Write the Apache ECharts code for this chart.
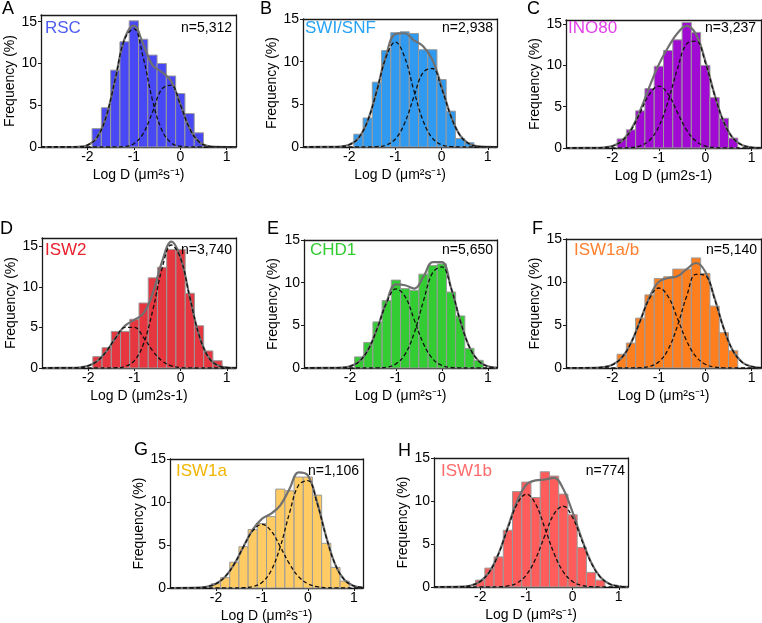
<!DOCTYPE html>
<html>
<head>
<meta charset="utf-8">
<script src="https://cdn.jsdelivr.net/npm/echarts@6/dist/echarts.min.js"></script>
<style>
  html, body { margin: 0; padding: 0; background: #fff; }
  #chart { width: 762px; height: 623px; }
</style>
</head>
<body>
<div id="chart"></div>
<script>
const fitX = [-3.0, -2.4, -2.2, -2.0, -1.8, -1.6, -1.4, -1.2, -1.0, -0.8, -0.6, -0.4, -0.2, 0.0, 0.2, 0.4, 0.6, 0.8, 1.0, 1.2]
const BIN_WIDTH = 0.2

// A - RSC
const binsA = [-1.8, -1.6, -1.4, -1.2, -1.0, -0.8, -0.6, -0.4, -0.2, 0.0, 0.2, 0.4]
const barsA = [2.2, 4.7, 9.2, 12.6, 15.1, 12.9, 11.0, 10.0, 8.5, 6.4, 4.0, 1.7]
const fitA1 = [0, 0, 0.03, 0.22, 1.09, 3.57, 8.14, 12.9, 14.14, 10.73, 5.64, 2.06, 0.52, 0.09, 0.01, 0, 0, 0, 0, 0]
const fitA2 = [0, 0, 0, 0, 0, 0, 0.01, 0.06, 0.39, 1.6, 4.15, 6.92, 7.4, 5.07, 2.23, 0.63, 0.11, 0.01, 0, 0]
const sumA = [0, 0, 0.03, 0.22, 1.09, 3.57, 8.15, 12.96, 14.53, 12.33, 9.79, 8.98, 7.92, 5.16, 2.24, 0.63, 0.11, 0.01, 0, 0]

// B - SWI/SNF
const binsB = [-1.8, -1.6, -1.4, -1.2, -1.0, -0.8, -0.6, -0.4, -0.2, 0.0, 0.2, 0.4, 0.6]
const barsB = [1.5, 3.4, 7.6, 11.3, 13.4, 13.5, 13.3, 11.4, 11.4, 7.9, 4.2, 1.0, 0.5]
const fitB1 = [0, 0.01, 0.05, 0.26, 1.04, 3.07, 6.63, 10.54, 12.3, 10.54, 6.63, 3.07, 1.04, 0.26, 0.05, 0.01, 0, 0, 0, 0]
const fitB2 = [0, 0, 0, 0, 0, 0, 0.04, 0.22, 0.94, 2.79, 5.87, 8.74, 9.2, 6.86, 3.62, 1.35, 0.36, 0.07, 0.01, 0]
const sumB = [0, 0.01, 0.05, 0.26, 1.04, 3.07, 6.67, 10.76, 13.24, 13.33, 12.5, 11.81, 10.24, 7.12, 3.67, 1.36, 0.36, 0.07, 0.01, 0]

// C - INO80
const binsC = [-1.8, -1.6, -1.4, -1.2, -1.0, -0.8, -0.6, -0.4, -0.2, 0.0, 0.2, 0.4, 0.6]
const barsC = [1.1, 2.2, 4.5, 7.2, 9.9, 11.8, 13.1, 15.2, 14.0, 10.0, 6.1, 3.6, 1.2]
const fitC1 = [0, 0.01, 0.05, 0.24, 0.82, 2.16, 4.31, 6.53, 7.5, 6.53, 4.31, 2.16, 0.82, 0.24, 0.05, 0.01, 0, 0, 0, 0]
const fitC2 = [0, 0, 0, 0, 0.01, 0.06, 0.26, 0.94, 2.61, 5.67, 9.58, 12.62, 12.94, 10.33, 6.42, 3.11, 1.17, 0.34, 0.08, 0.01]
const sumC = [0, 0.01, 0.05, 0.24, 0.83, 2.22, 4.57, 7.47, 10.11, 12.2, 13.89, 14.78, 13.76, 10.57, 6.47, 3.12, 1.17, 0.34, 0.08, 0.01]

// D - ISW2
const binsD = [-1.8, -1.6, -1.4, -1.2, -1.0, -0.8, -0.6, -0.4, -0.2, 0.0, 0.2, 0.4, 0.6, 0.8]
const barsD = [1.4, 2.5, 4.5, 4.5, 6.0, 8.0, 11.1, 12.4, 14.6, 14.6, 9.2, 5.2, 2.1, 0.9]
const fitD1 = [0, 0.01, 0.06, 0.27, 0.87, 2.09, 3.74, 5.01, 5.01, 3.74, 2.09, 0.87, 0.27, 0.06, 0.01, 0, 0, 0, 0, 0]
const fitD2 = [0, 0, 0, 0, 0, 0, 0.03, 0.2, 0.91, 3.01, 7.14, 12.25, 15.14, 13.51, 8.69, 4.04, 1.35, 0.33, 0.06, 0.01]
const sumD = [0, 0.01, 0.06, 0.27, 0.87, 2.09, 3.77, 5.21, 5.92, 6.75, 9.23, 13.12, 15.55, 13.57, 8.7, 4.04, 1.35, 0.33, 0.06, 0.01]

// E - CHD1
const binsE = [-1.8, -1.6, -1.4, -1.2, -1.0, -0.8, -0.6, -0.4, -0.2, 0.0, 0.2, 0.4, 0.6, 0.8]
const barsE = [1.3, 3.0, 5.4, 7.9, 10.3, 9.3, 9.1, 11.0, 12.0, 12.2, 8.9, 6.1, 2.3, 0.9]
const fitE1 = [0, 0.01, 0.04, 0.19, 0.76, 2.18, 4.73, 7.67, 9.27, 8.37, 5.64, 2.84, 1.07, 0.3, 0.06, 0.01, 0, 0, 0, 0]
const fitE2 = [0, 0, 0, 0, 0, 0, 0.02, 0.1, 0.48, 1.62, 4.13, 7.87, 11.17, 11.84, 9.37, 5.54, 2.45, 0.81, 0.2, 0.04]
const sumE = [0, 0.01, 0.04, 0.19, 0.76, 2.18, 4.75, 7.8, 9.8, 9.7, 9.3, 10.7, 12.4, 12.4, 9.4, 5.55, 2.45, 0.81, 0.2, 0.04]

// F - ISW1a/b
const binsF = [-1.8, -1.6, -1.4, -1.2, -1.0, -0.8, -0.6, -0.4, -0.2, 0.0, 0.2, 0.4, 0.6]
const barsF = [1.6, 2.9, 5.8, 8.5, 10.4, 10.6, 11.5, 11.5, 12.8, 11.0, 7.2, 4.1, 2.0]
const fitF1 = [0, 0.02, 0.1, 0.38, 1.2, 2.91, 5.5, 8.1, 9.3, 8.31, 5.78, 3.13, 1.32, 0.44, 0.11, 0.02, 0, 0, 0, 0]
const fitF2 = [0, 0, 0, 0, 0, 0.01, 0.04, 0.18, 0.72, 2.15, 4.88, 8.37, 10.89, 10.74, 8.03, 4.55, 1.96, 0.64, 0.16, 0.03]
const sumF = [0, 0.02, 0.1, 0.38, 1.2, 2.92, 5.54, 8.28, 10.02, 10.46, 10.66, 11.5, 12.21, 11.18, 8.14, 4.57, 1.96, 0.64, 0.16, 0.03]

// G - ISW1a
const binsG = [-2.0, -1.8, -1.6, -1.4, -1.2, -1.0, -0.8, -0.6, -0.4, -0.2, 0.0, 0.2, 0.4, 0.6, 0.8]
const barsG = [0.5, 1.2, 3.0, 4.8, 6.8, 7.5, 8.3, 11.5, 11.3, 12.9, 12.9, 10.8, 5.2, 2.4, 0.8]
const fitG1 = [0, 0.04, 0.15, 0.5, 1.31, 2.8, 4.8, 6.64, 7.4, 6.64, 4.8, 2.8, 1.31, 0.5, 0.15, 0.04, 0.01, 0, 0, 0]
const fitG2 = [0, 0, 0, 0, 0, 0, 0.03, 0.15, 0.64, 2.01, 4.8, 8.71, 11.98, 12.48, 9.87, 5.91, 2.68, 0.92, 0.24, 0.05]
const sumG = [0, 0.04, 0.15, 0.5, 1.31, 2.8, 4.83, 6.79, 8.04, 8.65, 9.6, 11.51, 13.45, 13.1, 10.02, 5.95, 2.69, 0.92, 0.24, 0.05]

// H - ISW1b
const binsH = [-2.0, -1.8, -1.6, -1.4, -1.2, -1.0, -0.8, -0.6, -0.4, -0.2, 0.0, 0.2, 0.4, 0.6]
const barsH = [0.8, 2.2, 3.5, 6.6, 11.1, 12.2, 10.4, 13.4, 12.9, 10.8, 8.4, 4.6, 1.7, 0.8]
const fitH1 = [0, 0.04, 0.18, 0.64, 1.76, 3.89, 6.86, 9.64, 10.8, 9.64, 6.86, 3.89, 1.76, 0.64, 0.18, 0.04, 0.01, 0, 0, 0]
const fitH2 = [0, 0, 0, 0, 0, 0.02, 0.12, 0.47, 1.4, 3.29, 5.99, 8.5, 9.39, 8.08, 5.42, 2.83, 1.15, 0.36, 0.09, 0.02]
const sumH = [0, 0.04, 0.18, 0.64, 1.76, 3.91, 6.98, 10.0, 11.9, 12.4, 12.5, 12.7, 11.4, 8.7, 5.6, 2.87, 1.16, 0.36, 0.09, 0.02]

const xTicks = [-2, -1, 0, 1]
const yTicks = [0, 5, 10, 15]
const TITLE_SUP = 'Log D (μm²s⁻¹)'
const TITLE_PLAIN = 'Log D (μm2s-1)'

const panels = [
  { letter: 'A', name: 'RSC', n: 'n=5,312', bins: binsA, bars: barsA, f1: fitA1, f2: fitA2, sum: sumA, yMax: 15.8, xTitle: TITLE_SUP },
  { letter: 'B', name: 'SWI/SNF', n: 'n=2,938', bins: binsB, bars: barsB, f1: fitB1, f2: fitB2, sum: sumB, yMax: 15, xTitle: TITLE_SUP },
  { letter: 'C', name: 'INO80', n: 'n=3,237', bins: binsC, bars: barsC, f1: fitC1, f2: fitC2, sum: sumC, yMax: 15.5, xTitle: TITLE_PLAIN },
  { letter: 'D', name: 'ISW2', n: 'n=3,740', bins: binsD, bars: barsD, f1: fitD1, f2: fitD2, sum: sumD, yMax: 16, xTitle: TITLE_PLAIN },
  { letter: 'E', name: 'CHD1', n: 'n=5,650', bins: binsE, bars: barsE, f1: fitE1, f2: fitE2, sum: sumE, yMax: 15, xTitle: TITLE_SUP },
  { letter: 'F', name: 'ISW1a/b', n: 'n=5,140', bins: binsF, bars: barsF, f1: fitF1, f2: fitF2, sum: sumF, yMax: 15, xTitle: TITLE_SUP },
  { letter: 'G', name: 'ISW1a', n: 'n=1,106', bins: binsG, bars: barsG, f1: fitG1, f2: fitG2, sum: sumG, yMax: 15, xTitle: TITLE_SUP },
  { letter: 'H', name: 'ISW1b', n: 'n=774', bins: binsH, bars: barsH, f1: fitH1, f2: fitH2, sum: sumH, yMax: 15, xTitle: TITLE_SUP }
]

// colours: bar fill, name label
const colors = [
  ['#4848f4', '#4d5cf0'],
  ['#2f9af0', '#26a2f5'],
  ['#a10ad2', '#e040e8'],
  ['#e6363f', '#e8202c'],
  ['#33cc33', '#33cc33'],
  ['#ff7f1f', '#ff8030'],
  ['#ffcb62', '#f2b600'],
  ['#ff5c5c', '#ff6b6b']
]

// layout in px: grid box, letter position, name position, n-label top/right
const layout = [
  { grid: [41, 15, 195, 132], letter: [2, 0], name: [45, 20], nTop: 21, nRight: 530 },
  { grid: [303, 19, 194, 128], letter: [260, 0], name: [305, 20], nTop: 21, nRight: 269 },
  { grid: [566, 20, 195, 128], letter: [527, 0], name: [568, 20], nTop: 21, nRight: 6 },
  { grid: [42, 238, 194, 130], letter: [0, 220], name: [45, 242], nTop: 243, nRight: 530 },
  { grid: [304, 240, 193, 128], letter: [267, 220], name: [310, 242], nTop: 243, nRight: 269 },
  { grid: [566, 239, 195, 129], letter: [532, 220], name: [574, 242], nTop: 243, nRight: 5 },
  { grid: [170, 459, 193, 129], letter: [134, 441], name: [176, 463], nTop: 464, nRight: 403 },
  { grid: [434, 458, 194, 129], letter: [398, 442], name: [441, 463], nTop: 464, nRight: 137 }
]

const FONT = 'Liberation Sans, Arial, Helvetica, sans-serif'
const FRAME = { color: '#1a1a1a', width: 1.3 }

function barRenderer(fill) {
  return function (params, api) {
    const c = api.value(0)
    const v = api.value(1)
    const a = api.coord([c - BIN_WIDTH / 2, v])
    const b = api.coord([c + BIN_WIDTH / 2, 0])
    return {
      type: 'rect',
      shape: { x: a[0], y: a[1], width: b[0] - a[0], height: b[1] - a[1] },
      style: { fill: fill, stroke: '#9a9a9a', lineWidth: 1 }
    }
  }
}

const grids = [], xAxes = [], yAxes = [], series = [], titles = []
const frameX = [], frameY = []

panels.forEach((p, i) => {
  const L = layout[i]
  grids.push({
    left: L.grid[0], top: L.grid[1], width: L.grid[2], height: L.grid[3],
    outerBoundsMode: 'none'
  })
  xAxes.push({
    gridIndex: i, type: 'value', min: -3, max: 1.2,
    name: p.xTitle, nameLocation: 'middle', nameGap: 21,
    nameTextStyle: { fontSize: 14, color: '#000', fontFamily: FONT },
    axisLine: { show: true, onZero: false, lineStyle: FRAME },
    axisTick: { show: true, length: 3, customValues: xTicks, lineStyle: { color: '#1a1a1a' } },
    axisLabel: { customValues: xTicks, fontSize: 14, color: '#000', margin: 3, fontFamily: FONT },
    splitLine: { show: false }
  })
  yAxes.push({
    gridIndex: i, type: 'value', min: 0, max: p.yMax,
    name: 'Frequency (%)', nameLocation: 'middle', nameGap: 19,
    nameTextStyle: { fontSize: 14, color: '#000', fontFamily: FONT },
    axisLine: { show: true, onZero: false, lineStyle: FRAME },
    axisTick: { show: true, length: 3, customValues: yTicks, lineStyle: { color: '#1a1a1a' } },
    axisLabel: { customValues: yTicks, fontSize: 14, color: '#000', margin: 4, fontFamily: FONT },
    splitLine: { show: false }
  })
  // top and right edges of the box
  frameX.push({
    gridIndex: i, type: 'value', position: 'top', min: -3, max: 1.2,
    axisLine: { show: true, onZero: false, lineStyle: FRAME },
    axisTick: { show: false }, axisLabel: { show: false }, splitLine: { show: false }
  })
  frameY.push({
    gridIndex: i, type: 'value', position: 'right', min: 0, max: p.yMax,
    axisLine: { show: true, onZero: false, lineStyle: FRAME },
    axisTick: { show: false }, axisLabel: { show: false }, splitLine: { show: false }
  })

  series.push({
    type: 'custom', xAxisIndex: i, yAxisIndex: i, z: 1,
    renderItem: barRenderer(colors[i][0]),
    encode: { x: 0, y: 1 },
    data: p.bins.map((b, k) => [b, p.bars[k]])
  })
  series.push({
    type: 'line', xAxisIndex: i, yAxisIndex: i, z: 3,
    smooth: 0.4, symbol: 'none',
    lineStyle: { color: '#707070', width: 2.2 },
    data: fitX.map((x, k) => [x, p.sum[k]])
  })
  ;[p.f1, p.f2].forEach(f => {
    series.push({
      type: 'line', xAxisIndex: i, yAxisIndex: i, z: 4,
      smooth: 0.4, symbol: 'none',
      lineStyle: { color: '#111', width: 1.3, type: [4, 2.5] },
      data: fitX.map((x, k) => [x, f[k]])
    })
  })

  titles.push({
    text: p.letter, left: L.letter[0], top: L.letter[1], padding: 0,
    textStyle: { fontSize: 18, fontWeight: 'normal', color: '#000', fontFamily: FONT }
  })
  titles.push({
    text: p.name, left: L.name[0], top: L.name[1], padding: 0,
    textStyle: { fontSize: 17, fontWeight: 'normal', color: colors[i][1], fontFamily: FONT }
  })
  titles.push({
    text: p.n, right: L.nRight, top: L.nTop, padding: 0,
    textStyle: { fontSize: 14, fontWeight: 'normal', color: '#000', fontFamily: FONT }
  })
})

const chart = echarts.init(document.getElementById('chart'))
chart.setOption({
  backgroundColor: '#fff',
  animation: false,
  textStyle: { fontFamily: FONT },
  title: titles,
  grid: grids,
  xAxis: xAxes.concat(frameX),
  yAxis: yAxes.concat(frameY),
  series: series
})
</script>
</body>
</html>
